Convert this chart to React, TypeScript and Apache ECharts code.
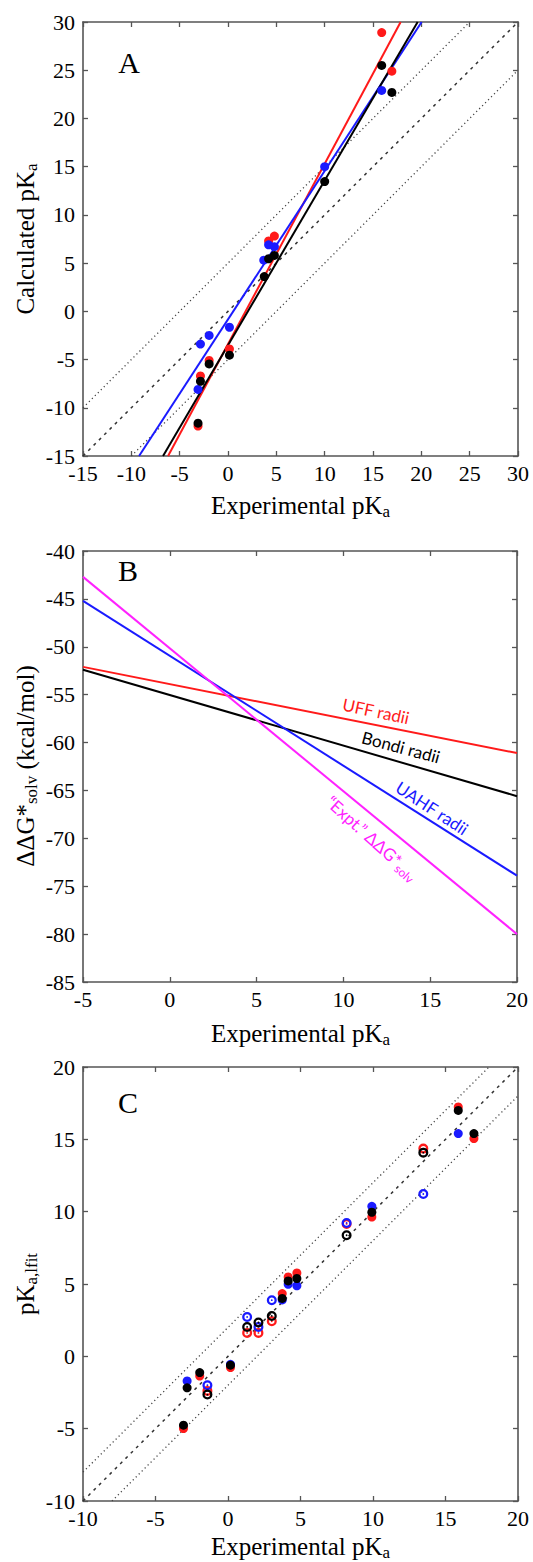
import React, { useEffect, useRef } from 'react';
import * as echarts from 'echarts';

// ---------- Panel A: calculated vs experimental pKa ----------
const aXRange = [-15, 30];
const aYRange = [-15, 30];
const aRed = [[-3.1, -11.9], [-2.85, -6.7], [-1.95, -5.1], [0.15, -3.9], [4.2, 7.3], [4.8, 7.8], [15.9, 28.9], [16.95, 24.9]];
const aBlue = [[-3.1, -8.1], [-2.85, -3.4], [-1.95, -2.5], [0.15, -1.65], [3.7, 5.3], [4.2, 6.9], [4.8, 6.7], [10, 15], [15.9, 22.9]];
const aBlack = [[-3.1, -11.6], [-2.85, -7.25], [-1.95, -5.45], [0.15, -4.55], [3.75, 3.6], [4.2, 5.45], [4.8, 5.8], [10, 13.45], [15.9, 25.5], [16.95, 22.7]];
const aRedFit = [[-6.2, -15], [17.86, 30]];
const aBlueFit = [[-9.2, -15], [20.03, 30]];
const aBlackFit = [[-6.72, -15], [19.62, 30]];
const aUpper = [[-15, -10], [25, 30]];
const aIdentity = [[-15, -15], [30, 30]];
const aLower = [[-10, -15], [30, 25]];

// ---------- Panel B: ΔΔG*solv lines ----------
const bXRange = [-5, 20];
const bYRange = [-85, -40];
const bUff = [[-5, -52.1], [20, -61.1]];
const bBondi = [[-5, -52.4], [20, -65.6]];
const bUahf = [[-5, -45.2], [20, -73.9]];
const bExpt = [[-5, -42.7], [20, -80.0]];

// ---------- Panel C: fitted pKa ----------
const cXRange = [-10, 20];
const cYRange = [-10, 20];
const cRedFilled = [[-3.07, -4.99], [-1.95, -1.36], [0.17, -0.78], [3.74, 4.34], [4.15, 5.49], [4.75, 5.76], [9.92, 9.63], [15.88, 17.24], [16.96, 15.05]];
const cBlueFilled = [[-2.82, -1.7], [0.17, -0.55], [3.74, 3.9], [4.15, 4.98], [4.75, 4.88], [9.92, 10.37], [15.88, 15.4]];
const cBlackFilled = [[-3.07, -4.76], [-2.82, -2.18], [-1.95, -1.12], [0.17, -0.61], [3.74, 4.0], [4.15, 5.21], [4.75, 5.38], [9.92, 9.96], [15.88, 17.0], [16.96, 15.4]];
const cRedOpen = [[-1.42, -2.39], [1.32, 1.62], [2.1, 1.62], [3.02, 2.42], [8.18, 9.15], [13.47, 14.36]];
const cBlueOpen = [[-1.42, -2.0], [1.32, 2.72], [2.1, 2.03], [3.02, 3.88], [8.18, 9.22], [13.47, 11.22]];
const cBlackOpen = [[-1.42, -2.64], [1.32, 2.03], [2.1, 2.34], [3.02, 2.79], [8.18, 8.37], [13.47, 14.08]];
const cUpper = [[-10, -8], [18, 20]];
const cIdentity = [[-10, -10], [20, 20]];
const cLower = [[-8, -10], [20, 18]];

const TICK_INTERVAL = 5;

const SERIF = "'Liberation Serif', 'Times New Roman', Times, serif";
const SANS = "Lato, 'Noto Sans', 'DejaVu Sans', sans-serif";
const RED = '#ff1a1a';
const BLUE = '#1a1aff';
const BLACK = '#000000';
const MAGENTA = '#ff22ff';
const FRAME = '#555555';

const RING = 'path://M10,0A10,10,0,1,1,10,20A10,10,0,1,1,10,0ZM10,4.6A5.4,5.4,0,1,0,10,15.4A5.4,5.4,0,1,0,10,4.6ZM10,8.2A1.8,1.8,0,1,1,10,11.8A1.8,1.8,0,1,1,10,8.2Z';

const grids = [
  { left: 83, top: 22, width: 435, height: 434 },
  { left: 83, top: 551, width: 434, height: 431 },
  { left: 83, top: 1067, width: 435, height: 434 },
];

function mainX(gi: number, range: number[]) {
  return {
    type: 'value', gridIndex: gi, min: range[0], max: range[1], interval: TICK_INTERVAL, position: 'bottom',
    axisLine: { show: true, onZero: false, lineStyle: { color: FRAME, width: 1.6 } },
    axisTick: { show: true, inside: true, length: 5, lineStyle: { color: FRAME, width: 1.3 } },
    axisLabel: { show: true, color: '#000', fontSize: 22, fontFamily: SERIF, margin: 6 },
    splitLine: { show: false },
  };
}
function mirrorX(gi: number, range: number[]) {
  return {
    type: 'value', gridIndex: gi, min: range[0], max: range[1], interval: TICK_INTERVAL, position: 'top',
    axisLine: { show: true, onZero: false, lineStyle: { color: FRAME, width: 1.6 } },
    axisTick: { show: true, inside: true, length: 5, lineStyle: { color: FRAME, width: 1.3 } },
    axisLabel: { show: false },
    splitLine: { show: false },
  };
}
function mainY(gi: number, range: number[]) {
  return {
    type: 'value', gridIndex: gi, min: range[0], max: range[1], interval: TICK_INTERVAL, position: 'left',
    axisLine: { show: true, onZero: false, lineStyle: { color: FRAME, width: 1.6 } },
    axisTick: { show: true, inside: true, length: 5, lineStyle: { color: FRAME, width: 1.3 } },
    axisLabel: { show: true, color: '#000', fontSize: 22, fontFamily: SERIF, margin: 8 },
    splitLine: { show: false },
  };
}
function mirrorY(gi: number, range: number[]) {
  return {
    type: 'value', gridIndex: gi, min: range[0], max: range[1], interval: TICK_INTERVAL, position: 'right',
    axisLine: { show: true, onZero: false, lineStyle: { color: FRAME, width: 1.6 } },
    axisTick: { show: true, inside: true, length: 5, lineStyle: { color: FRAME, width: 1.3 } },
    axisLabel: { show: false },
    splitLine: { show: false },
  };
}

function line(axis: number, data: number[][], color: string, width: number, type: any, z: number) {
  return {
    type: 'line', xAxisIndex: axis * 2, yAxisIndex: axis * 2, data, symbol: 'none', silent: true, z,
    lineStyle: { color, width, type }, clip: true,
  };
}
function dots(axis: number, data: number[][], color: string, symbol: string, size: number) {
  return {
    type: 'scatter', xAxisIndex: axis * 2, yAxisIndex: axis * 2, data, symbol, symbolSize: size,
    symbolKeepAspect: true, silent: true, z: 4, itemStyle: { color, opacity: 1 },
  };
}

const DOT = [1.2, 3];
const DASH = [3, 4.5];

function titleRich(size: number) {
  return {
    b: { fontSize: size, fontFamily: SERIF, fill: '#000', color: '#000', lineHeight: 30, verticalAlign: 'middle' },
    s: { fontSize: Math.round(size * 0.66), fontFamily: SERIF, fill: '#000', color: '#000', lineHeight: 14, verticalAlign: 'bottom' },
  };
}
function xTitle(y: number) {
  return {
    type: 'text', x: 300.5, y, z: 10,
    style: { text: '{b|Experimental pK}{s|a}', rich: titleRich(25), align: 'center', verticalAlign: 'middle' },
  };
}
function yTitle(y: number, text: string) {
  return {
    type: 'text', x: 25, y, rotation: Math.PI / 2, z: 10,
    style: { text, rich: titleRich(25), align: 'center', verticalAlign: 'middle' },
  };
}
function letter(x: number, y: number, t: string) {
  return {
    type: 'text', x, y, z: 10,
    style: { text: t, fontSize: 30, fontFamily: SERIF, fill: '#000', align: 'center', verticalAlign: 'middle' },
  };
}
function lineLabel(x: number, y: number, deg: number, text: string, color: string) {
  return {
    type: 'text', x, y, rotation: -deg * Math.PI / 180, z: 10,
    style: {
      text, align: 'center', verticalAlign: 'middle', fill: color,
      rich: {
        m: { fontSize: 17, fontFamily: SANS, fill: color, color, lineHeight: 22, verticalAlign: 'middle' },
        s: { fontSize: 12, fontFamily: SANS, fill: color, color, lineHeight: 12, verticalAlign: 'bottom' },
      },
    },
  };
}

const option: any = {
  animation: false,
  backgroundColor: '#ffffff',
  grid: grids,
  xAxis: [mainX(0, aXRange), mirrorX(0, aXRange), mainX(1, bXRange), mirrorX(1, bXRange), mainX(2, cXRange), mirrorX(2, cXRange)],
  yAxis: [mainY(0, aYRange), mirrorY(0, aYRange), mainY(1, bYRange), mirrorY(1, bYRange), mainY(2, cYRange), mirrorY(2, cYRange)],
  series: [
    line(0, aUpper, '#444', 1.3, DOT, 1),
    line(0, aIdentity, '#333', 1.5, DASH, 1),
    line(0, aLower, '#444', 1.3, DOT, 1),
    line(0, aRedFit, RED, 2, 'solid', 2),
    line(0, aBlueFit, BLUE, 2, 'solid', 2),
    line(0, aBlackFit, BLACK, 2, 'solid', 2),
    dots(0, aRed, RED, 'circle', 9),
    dots(0, aBlue, BLUE, 'circle', 9),
    dots(0, aBlack, BLACK, 'circle', 9),

    line(1, bUff, RED, 2, 'solid', 2),
    line(1, bBondi, BLACK, 2, 'solid', 2),
    line(1, bUahf, BLUE, 2, 'solid', 2),
    line(1, bExpt, MAGENTA, 2, 'solid', 2),

    line(2, cUpper, '#444', 1.3, DOT, 1),
    line(2, cIdentity, '#333', 1.5, DASH, 1),
    line(2, cLower, '#444', 1.3, DOT, 1),
    dots(2, cRedOpen, RED, RING, 10),
    dots(2, cRedFilled, RED, 'circle', 9),
    dots(2, cBlueOpen, BLUE, RING, 10),
    dots(2, cBlueFilled, BLUE, 'circle', 9),
    dots(2, cBlackOpen, BLACK, RING, 10),
    dots(2, cBlackFilled, BLACK, 'circle', 9),
  ],
  graphic: [
    letter(129, 62, 'A'),
    letter(128, 570, 'B'),
    letter(128, 1102, 'C'),
    xTitle(505),
    xTitle(1033),
    xTitle(1546),
    yTitle(239, '{b|Calculated pK}{s|a}'),
    yTitle(766, '{b|ΔΔG*}{s|solv}{b| (kcal/mol)}'),
    yTitle(1284, '{b|pK}{s|a,lfit}'),
    lineLabel(376, 711, 12, '{m|UFF radii}', RED),
    lineLabel(401, 747, 15, '{m|Bondi radii}', BLACK),
    lineLabel(432, 808, 33, '{m|UAHF radii}', BLUE),
    lineLabel(372, 838, 42, '{m|“Expt.” ΔΔG*}{s|solv}', MAGENTA),
  ],
};

export default function App() {
  const ref = useRef<HTMLDivElement>(null);
  useEffect(() => {
    const chart = echarts.init(ref.current as HTMLDivElement, null, { renderer: 'svg' });
    chart.setOption(option);
    return () => chart.dispose();
  }, []);
  return (
    <div
      ref={ref}
      style={{ position: 'absolute', left: 0, top: 0, width: 533, height: 1562, background: '#fff' }}
    />
  );
}
